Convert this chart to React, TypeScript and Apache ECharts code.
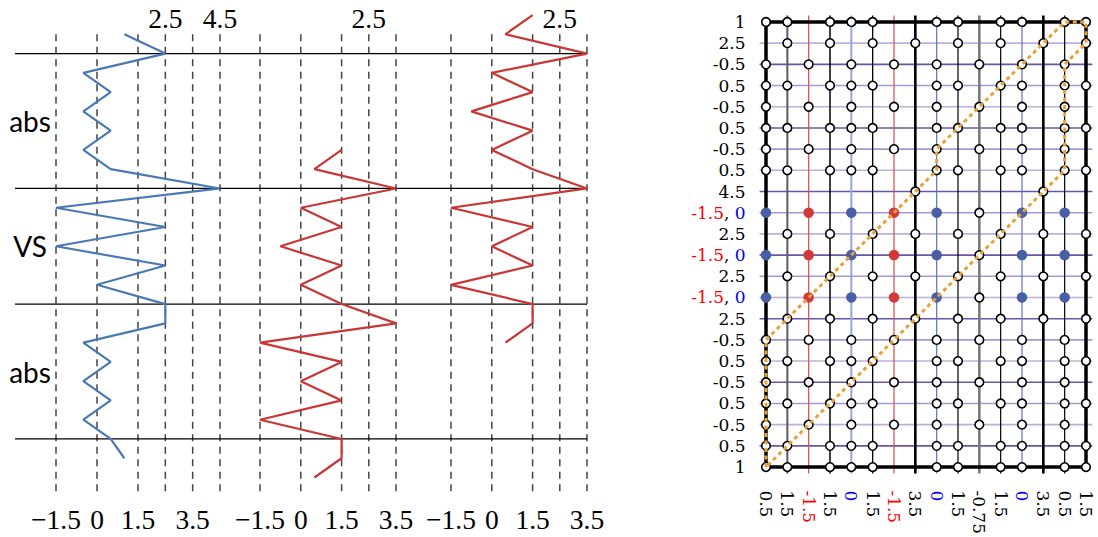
import React, { useEffect, useRef } from "react";
import * as echarts from "echarts";

// ---------- Left: three traces ----------
const blueValues = [1, 2.5, -0.5, 0.5, -0.5, 0.5, -0.5, 0.5, 4.5, -1.5, 2.5, -1.5, 2.5, 0, 2.5, 2.5, -0.5, 0.5, -0.5, 0.5, -0.5, 0.5, 1];
const blueFirstRow = 1;
const redValues = [1.5, 0.5, 3.5, 0, 1.5, -0.75, 1.5, 0, 1.5, 3.5, -1.5, 1.5, 0, 1.5, -1.5, 1.5, 1.5, 0.5];
const redMiddleFirstRow = 7;
const redRightFirstRow = 0;
const bottomTicks = [-1.5, 0, 1.5, 3.5];
const topTicksFirst = [2.5, 4.5];
const topTicksOther = [2.5];
const guideTicksFirst = [-1.5, 0, 1.5, 2.5, 3.5, 4.5];
const guideTicksOther = [-1.5, 0, 1.5, 2.5, 3.5];
const dividerRows = [2, 9, 15, 22];
const sideLabels = ["abs", "VS", "abs"];
const sideLabelRows = [5.5, 12, 18.5];

// ---------- Right: grid ----------
const colLabels = ["0.5", "1.5", "-1.5", "1.5", "0", "1.5", "-1.5", "3.5", "0", "1.5", "-0.75", "1.5", "0", "3.5", "0.5", "1.5"];
const rowLabels = ["1", "2.5", "-0.5", "0.5", "-0.5", "0.5", "-0.5", "0.5", "4.5", "-1.5, 0", "2.5", "-1.5, 0", "2.5", "-1.5, 0", "2.5", "-0.5", "0.5", "-0.5", "0.5", "-0.5", "0.5", "1"];
const cellPattern = [
  "oo.ooo..oo.oo.oo",
  ".o.o.o.o.o.o.o.o",
  "o.o.o.o.o.o.o.o.",
  "oo.ooo..oo.oo.oo",
  "o.o.o.o.o.o.o.o.",
  "oo.ooo..oo.oo.oo",
  "o.o.o.o.o.o.o.o.",
  "oo.ooo..oo.oo.oo",
  ".......o.....o..",
  "b.r.b.r.b.o.b.b.",
  ".o.o.o.o.o.o.o.o",
  "b.r.b.r.b.o.b.b.",
  ".o.o.o.o.o.o.o.o",
  "b.r.b.r.b.o.b.b.",
  ".o.o.o.o.o.o.o.o",
  "o.o.o.o.o.o.o.o.",
  "oo.ooo..oo.oo.oo",
  "o.o.o.o.o.o.o.o.",
  "oo.ooo..oo.oo.oo",
  "o.o.o.o.o.o.o.o.",
  "oo.ooo..oo.oo.oo",
  "oo.ooo..oo.oo.oo",
];
const pathCols = [0, 0, 8, 8, 14, 15, 15, 14, 14, 0];
const pathRows = [21, 15, 7, 6, 0, 0, 1, 2, 7, 21];

// column line styles (color, width)
const colStyles: [string, number][] = [
  ["#000", 3.5], ["#5c5c5c", 2], ["#e04848", 1.2], ["#000", 1.5],
  ["#98a4d6", 2], ["#000", 1.3], ["#e04848", 1.2], ["#000", 2.6],
  ["#5f72bb", 1.2], ["#000", 1.2], ["#7a7a7a", 2.6], ["#000", 1.2],
  ["#5f72bb", 1.2], ["#000", 2.6], ["#000", 1.2], ["#000", 3.5],
];

const SERIF = "Liberation Serif";
const SMALL_SERIF = "DejaVu Serif";
const BLUE = "#4a78b5";
const RED = "#c93636";

function fmtMinus(v: number) {
  return v < 0 ? "\u2212" + String(Math.abs(v)) : String(v);
}

export default function App() {
  const ref = useRef<HTMLDivElement>(null);
  useEffect(() => {
    if (!ref.current) return;
    const chart = echarts.init(ref.current, null, { renderer: "svg" });

    const rowTop = 34.3;
    const rowPx = 19.27;
    const gTop = rowTop;
    const gHeight = 24 * rowPx;

    const leftGrids = [
      { left: 56, top: gTop, width: 164, height: gHeight },
      { left: 260, top: gTop, width: 136, height: gHeight },
      { left: 451, top: gTop, width: 136, height: gHeight },
      { left: 15, top: gTop, width: 572, height: gHeight },
      { left: 759.6, top: 15.6, width: 332.8, height: 458.7 },
    ];

    const panelMax = [4.5, 3.5, 3.5];
    const xAxes: any[] = [];
    const yAxes: any[] = [];
    for (let p = 0; p < 3; p++) {
      const base = {
        gridIndex: p, type: "value", min: -1.5, max: panelMax[p],
        axisLine: { show: false }, axisTick: { show: false }, splitLine: { show: false },
      };
      xAxes.push({
        ...base, position: "bottom",
        axisLabel: { customValues: bottomTicks, formatter: (v: number) => fmtMinus(v), fontSize: 27.5, fontFamily: SERIF, color: "#000", margin: 9 },
      });
      xAxes.push({
        ...base, position: "top",
        axisLabel: { customValues: p === 0 ? topTicksFirst : topTicksOther, formatter: (v: number) => fmtMinus(v), fontSize: 27.5, fontFamily: SERIF, color: "#000", margin: 2 },
      });
      yAxes.push({ gridIndex: p, type: "value", min: 1, max: 25, inverse: true, show: false });
    }
    // wide grid (index 3)
    xAxes.push({ gridIndex: 3, type: "value", min: 0, max: 1, show: false });
    yAxes.push({
      gridIndex: 3, type: "value", min: 1, max: 25, inverse: true,
      axisLine: { show: false }, axisTick: { show: false }, splitLine: { show: false },
      axisLabel: {
        customValues: sideLabelRows, inside: true, margin: 15, align: "center",
        formatter: (v: number) => sideLabels[sideLabelRows.indexOf(v)] ?? "",
        fontSize: 28, fontFamily: "Lato", color: "#000",
      },
    });
    // right grid (index 4)
    const colIdx = colLabels.map((_, i) => i);
    const rowIdx = rowLabels.map((_, i) => i);
    const rich = {
      r: { color: "#ff0000", fontSize: 17, fontFamily: SMALL_SERIF },
      b: { color: "#0000ff", fontSize: 17, fontFamily: SMALL_SERIF },
    };
    const colorize = (s: string) =>
      s.split(", ").map((t) => (t === "-1.5" ? "{r|-1.5}" : t === "0" ? "{b|0}" : t)).join(", ");
    xAxes.push({
      gridIndex: 4, type: "value", min: -0.3, max: 15.3, position: "bottom",
      axisLine: { show: false }, axisTick: { show: false }, splitLine: { show: false },
      axisLabel: {
        customValues: colIdx, rotate: -90, margin: 17,
        formatter: (v: number) => colorize(colLabels[Math.round(v)] ?? ""),
        fontSize: 17, fontFamily: SMALL_SERIF, color: "#000", rich,
      },
    });
    yAxes.push({
      gridIndex: 4, type: "value", min: -0.3, max: 21.3, inverse: true,
      axisLine: { show: false }, axisTick: { show: false }, splitLine: { show: false },
      axisLabel: {
        customValues: rowIdx, margin: 14,
        formatter: (v: number) => colorize(rowLabels[Math.round(v)] ?? ""),
        fontSize: 17, fontFamily: SMALL_SERIF, color: "#000", rich,
      },
    });

    const series: any[] = [];
    const seg = (xi: number, yi: number, data: any[], color: string, width: number, z: number, type: any = "solid") => ({
      type: "line", xAxisIndex: xi, yAxisIndex: yi, data, symbol: "none", silent: true, clip: false, z,
      lineStyle: { color, width, type, cap: "butt" },
    });

    // dashed guides
    const guides = [guideTicksFirst, guideTicksOther, guideTicksOther];
    guides.forEach((ticks, p) => {
      ticks.forEach((t) => {
        series.push(seg(p * 2, p, [[t, 1], [t, 25]], "#444", 1.5, 1, [7, 5.5]));
      });
    });
    // horizontal dividers
    dividerRows.forEach((r) => series.push(seg(6, 3, [[0, r], [1, r]], "#000", 1.2, 2)));
    // traces
    series.push(seg(0, 0, blueValues.map((v, i) => [v, blueFirstRow + i]), BLUE, 2.2, 3));
    series.push(seg(2, 1, redValues.map((v, i) => [v, redMiddleFirstRow + i]), RED, 2.2, 3));
    series.push(seg(4, 2, redValues.map((v, i) => [v, redRightFirstRow + i]), RED, 2.2, 3));

    // right grid rows
    const rowColor = (r: number) => (r % 3 === 2 ? "#6a55a6" : r % 3 === 0 ? "#a898d2" : "#bdb0de");
    for (let r = 1; r < rowLabels.length - 1; r++) {
      series.push(seg(7, 4, [[-0.3, r], [15.3, r]], rowColor(r), 1.6, 1));
    }
    // columns
    colStyles.forEach(([c, w], i) => {
      const border = i === 0 || i === colStyles.length - 1;
      series.push(seg(7, 4, border ? [[i, 0], [i, 21]] : [[i, -0.3], [i, 21.3]], c, w, border ? 3 : 2));
    });
    // top / bottom border
    series.push(seg(7, 4, [[0, 0], [15, 0]], "#000", 3.5, 3));
    series.push(seg(7, 4, [[0, 21], [15, 21]], "#000", 3.5, 3));

    const open: number[][] = [], blueDots: number[][] = [], redDots: number[][] = [];
    cellPattern.forEach((row, r) => {
      row.split("").forEach((ch, c) => {
        if (ch === "o") open.push([c, r]);
        else if (ch === "b") blueDots.push([c, r]);
        else if (ch === "r") redDots.push([c, r]);
      });
    });
    series.push({
      type: "scatter", xAxisIndex: 7, yAxisIndex: 4, data: open, symbol: "circle", symbolSize: 8.6, z: 5, silent: true,
      itemStyle: { color: "#ffffff", opacity: 1, borderColor: "#000", borderWidth: 1.6 },
    });
    series.push({
      type: "scatter", xAxisIndex: 7, yAxisIndex: 4, data: blueDots, symbol: "circle", symbolSize: 10.5, z: 5, silent: true,
      itemStyle: { color: "#4a5ea6", opacity: 1 },
    });
    series.push({
      type: "scatter", xAxisIndex: 7, yAxisIndex: 4, data: redDots, symbol: "circle", symbolSize: 10.5, z: 5, silent: true,
      itemStyle: { color: "#d23a3a", opacity: 1 },
    });
    // orange path
    series.push(seg(7, 4, pathCols.map((c, i) => [c, pathRows[i]]), "#e9a23b", 3, 6, [4, 3.5]));

    chart.setOption({
      animation: false,
      backgroundColor: "#fff",
      grid: leftGrids,
      xAxis: xAxes,
      yAxis: yAxes,
      series,
    });
    return () => chart.dispose();
  }, []);
  return <div ref={ref} style={{ position: "fixed", left: 0, top: 0, width: 1098, height: 537 }} />;
}
